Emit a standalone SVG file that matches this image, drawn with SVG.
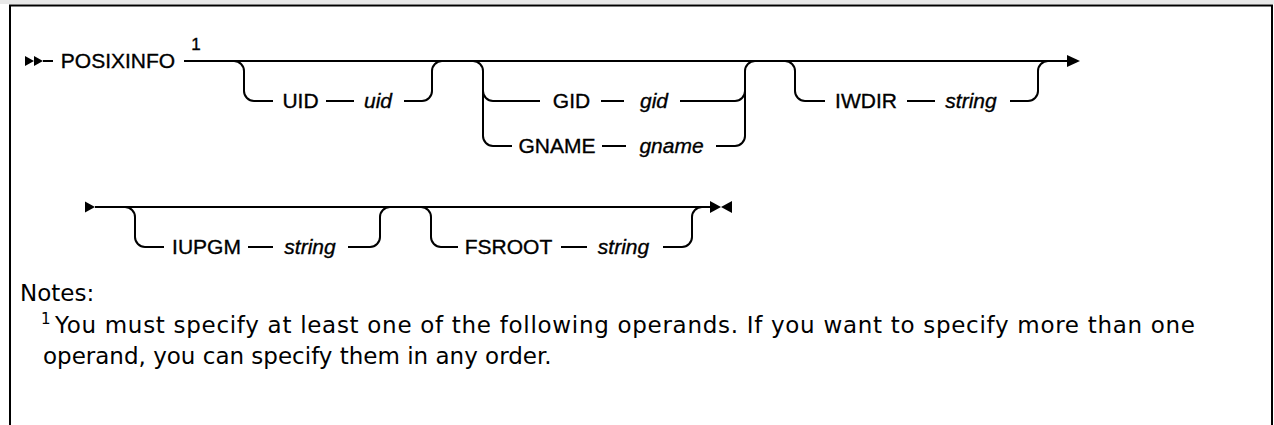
<svg xmlns="http://www.w3.org/2000/svg" width="1274" height="425" viewBox="0 0 1274 425">
<style>
.ln{fill:none;stroke:#000;stroke-width:2}
.ah{fill:#000;stroke:none}
.t{font-family:"Liberation Sans",Arial,sans-serif;font-size:21px;fill:#000;stroke:#000;stroke-width:0.35;text-anchor:middle}
.i{font-style:italic}
.sup{font-family:"Liberation Sans",Arial,sans-serif;font-size:17px;fill:#000;stroke:#000;stroke-width:0.35;text-anchor:middle}
.nt{font-family:"DejaVu Sans","Liberation Sans",sans-serif;font-size:23px;fill:#000}
.ns{font-family:"DejaVu Sans","Liberation Sans",sans-serif;font-size:15px;fill:#000}
</style>
<rect x="0" y="0" width="1274" height="4" fill="#e8e8e8"/>
<path class="ln" d="M10,425 V5.5 H1272 V425"/>
<g id="connectors">
  <polygon class="ah" points="25,56 34,61 25,66"/>
  <polygon class="ah" points="34,56 43,61 34,66"/>
  <path class="ln" d="M43,61 H53"/>
  <path class="ln" d="M184,61 H1067"/>
  <polygon class="ah" points="1067,55 1080,61 1067,67"/>
  <path class="ln" d="M234,61 A10,10 0 0 1 244,71 V91 A10,10 0 0 0 254,101 H273"/>
  <path class="ln" d="M326,101 H354"/>
  <path class="ln" d="M404,101 H422 A10,10 0 0 0 432,91 V71 A10,10 0 0 1 442,61"/>
  <path class="ln" d="M473,61 A10,10 0 0 1 483,71 V136 A10,10 0 0 0 493,146 H512"/>
  <path class="ln" d="M483,91 A10,10 0 0 0 493,101 H540"/>
  <path class="ln" d="M601,101 H624"/>
  <path class="ln" d="M680,101 H735 A10,10 0 0 0 745,91"/>
  <path class="ln" d="M602,146 H626"/>
  <path class="ln" d="M716,146 H735 A10,10 0 0 0 745,136 V71 A10,10 0 0 1 755,61"/>
  <path class="ln" d="M785,61 A10,10 0 0 1 795,71 V91 A10,10 0 0 0 805,101 H825"/>
  <path class="ln" d="M907,101 H935"/>
  <path class="ln" d="M1010,101 H1028 A10,10 0 0 0 1038,91 V71 A10,10 0 0 1 1048,61"/>
  <polygon class="ah" points="85,201.5 95,207 85,212.5"/>
  <path class="ln" d="M95,207 H710"/>
  <polygon class="ah" points="710,201 721,207 710,213"/>
  <polygon class="ah" points="732,201 721,207 732,213"/>
  <path class="ln" d="M125,207 A10,10 0 0 1 135,217 V237 A10,10 0 0 0 145,247 H164"/>
  <path class="ln" d="M248,247 H273"/>
  <path class="ln" d="M348,247 H370 A10,10 0 0 0 380,237 V217 A10,10 0 0 1 390,207"/>
  <path class="ln" d="M421,207 A10,10 0 0 1 431,217 V237 A10,10 0 0 0 441,247 H458"/>
  <path class="ln" d="M561,247 H587"/>
  <path class="ln" d="M663,247 H682 A10,10 0 0 0 692,237 V217 A10,10 0 0 1 702,207"/>
</g>
<g id="n-posixinfo"><text class="t" x="118" y="68">POSIXINFO</text></g>
<g id="n-ref1"><text class="sup" x="196" y="50">1</text></g>
<g id="n-uid"><text class="t" x="300.5" y="108">UID</text><text class="t i" x="378" y="108">uid</text></g>
<g id="n-gid"><text class="t" x="571.5" y="108">GID</text><text class="t i" x="654" y="108">gid</text></g>
<g id="n-gname"><text class="t" x="557" y="153">GNAME</text><text class="t i" x="671.5" y="153">gname</text></g>
<g id="n-iwdir"><text class="t" x="866" y="108">IWDIR</text><text class="t i" x="971" y="108">string</text></g>
<g id="n-iupgm"><text class="t" x="206.5" y="254">IUPGM</text><text class="t i" x="310" y="254">string</text></g>
<g id="n-fsroot"><text class="t" x="508.5" y="254">FSROOT</text><text class="t i" x="623.5" y="254">string</text></g>
<g id="notes">
  <text class="nt" x="20" y="301">Notes:</text>
  <text class="ns" x="41" y="324">1</text>
  <text class="nt" x="55" y="333" textLength="1140">You must specify at least one of the following operands. If you want to specify more than one</text>
  <text class="nt" x="43" y="364">operand, you can specify them in any order.</text>
</g>
</svg>
